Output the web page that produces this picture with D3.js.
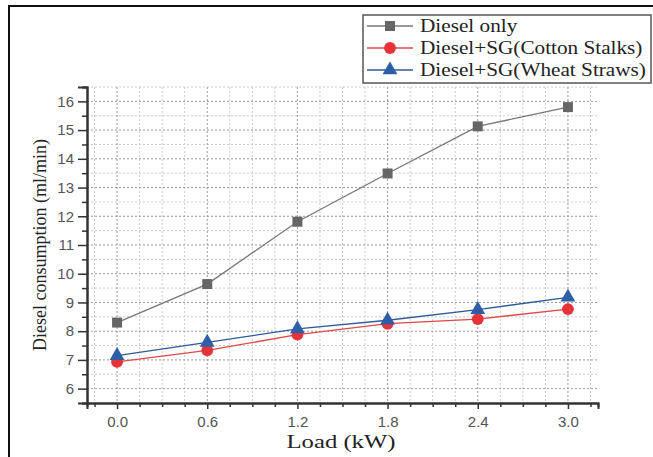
<!DOCTYPE html>
<html>
<head>
<meta charset="utf-8">
<script src="https://cdn.jsdelivr.net/npm/d3@7"></script>
<style>
  body { margin: 0; background: #fff; }
  svg { display: block; }
  .serif { font-family: "Liberation Serif", "DejaVu Serif", serif; }
  .sans { font-family: "Liberation Sans", "DejaVu Sans", sans-serif; }
</style>
</head>
<body>
<svg id="chart" width="653" height="457"></svg>
<script>
// Data
const loads = [0.0, 0.6, 1.2, 1.8, 2.4, 3.0];
const dieselOnly = [8.30, 9.64, 11.81, 13.49, 15.13, 15.80];
const cottonStalks = [6.93, 7.33, 7.88, 8.26, 8.42, 8.77];
const wheatStraws = [7.15, 7.61, 8.08, 8.38, 8.75, 9.18];
const xTicks = [0.0, 0.6, 1.2, 1.8, 2.4, 3.0];
const yTicks = [6, 7, 8, 9, 10, 11, 12, 13, 14, 15, 16];
const seriesNames = ["Diesel only", "Diesel+SG(Cotton Stalks)", "Diesel+SG(Wheat Straws)"];

// Plot box
const plot = { left: 87, right: 598, top: 87, bottom: 403 };

const svg = d3.select("#chart");

// Outer frame (only top and left edges show inside the picture)
svg.append("rect")
  .attr("x", 9).attr("y", 6)
  .attr("width", 660).attr("height", 470)
  .attr("fill", "none")
  .attr("stroke", "#111")
  .attr("stroke-width", 2);

// Scales
const x = d3.scaleLinear().domain([-0.2, 3.2]).range([plot.left, plot.right]);
const y = d3.scaleLinear().domain([5.5, 16.5]).range([plot.bottom, plot.top]);

const minorX = d3.range(-0.15, 3.2, 0.15).map(v => +v.toFixed(2));
const minorY = d3.range(5.5, 16.6, 0.5).map(v => +v.toFixed(1));

// Grid: minor (lighter) then major (darker)
const grid = svg.append("g");
grid.selectAll("line.minx")
  .data(minorX.filter(v => !xTicks.includes(v)))
  .enter().append("line")
  .attr("x1", d => x(d)).attr("x2", d => x(d))
  .attr("y1", plot.top).attr("y2", plot.bottom)
  .attr("stroke", "#ccc").attr("stroke-width", 1).attr("stroke-dasharray", "2,2");
grid.selectAll("line.miny")
  .data(minorY.filter(v => !yTicks.includes(v)))
  .enter().append("line")
  .attr("x1", plot.left).attr("x2", plot.right)
  .attr("y1", d => y(d)).attr("y2", d => y(d))
  .attr("stroke", "#ccc").attr("stroke-width", 1).attr("stroke-dasharray", "2,2");
grid.selectAll("line.majx")
  .data(xTicks)
  .enter().append("line")
  .attr("x1", d => x(d)).attr("x2", d => x(d))
  .attr("y1", plot.top).attr("y2", plot.bottom)
  .attr("stroke", "#999").attr("stroke-width", 1).attr("stroke-dasharray", "2,2");
grid.selectAll("line.majy")
  .data(yTicks)
  .enter().append("line")
  .attr("x1", plot.left).attr("x2", plot.right)
  .attr("y1", d => y(d)).attr("y2", d => y(d))
  .attr("stroke", "#999").attr("stroke-width", 1).attr("stroke-dasharray", "2,2");

// Axes
svg.append("g")
  .attr("transform", `translate(0,${plot.bottom})`)
  .call(d3.axisBottom(x).tickValues(xTicks).tickFormat(d3.format(".1f")).tickSize(6).tickPadding(7));
svg.append("g")
  .attr("transform", `translate(${plot.left},0)`)
  .call(d3.axisLeft(y).tickValues(yTicks).tickSize(9).tickPadding(4));

// Minor ticks
svg.append("g")
  .attr("transform", `translate(0,${plot.bottom})`)
  .call(d3.axisBottom(x).tickValues(minorX.filter(v => !xTicks.includes(v))).tickFormat("").tickSize(4));
svg.append("g")
  .attr("transform", `translate(${plot.left},0)`)
  .call(d3.axisLeft(y).tickValues(minorY.filter(v => !yTicks.includes(v))).tickFormat("").tickSize(5));

svg.selectAll(".domain").attr("stroke", "#333").attr("stroke-width", 2);
svg.selectAll(".tick line").attr("stroke", "#333").attr("stroke-width", 1.5);
svg.selectAll(".tick text")
  .attr("class", "sans")
  .attr("font-family", null)
  .attr("font-size", 15)
  .attr("fill", "#555");

// Axis titles (the source image is a bit stretched sideways)
svg.append("text")
  .attr("class", "serif")
  .attr("transform", `translate(341,448) scale(1.3,1)`)
  .attr("text-anchor", "middle")
  .attr("font-size", 19)
  .attr("fill", "#222")
  .text("Load (kW)");
svg.append("text")
  .attr("class", "serif")
  .attr("transform", `translate(46,245) rotate(-90)`)
  .attr("text-anchor", "middle")
  .attr("font-size", 18)
  .attr("fill", "#222")
  .text("Diesel consumption (ml/min)");

// Series
const series = [
  { name: seriesNames[0], values: dieselOnly, line: "#777", fill: "#666", shape: d3.symbolSquare, size: 100 },
  { name: seriesNames[1], values: cottonStalks, line: "#e0474a", fill: "#e8323a", shape: d3.symbolCircle, size: 110 },
  { name: seriesNames[2], values: wheatStraws, line: "#2f5a98", fill: "#2e5ea6", shape: d3.symbolTriangle, size: 95 }
];

const line = d3.line().x((d, i) => x(loads[i])).y(d => y(d));

series.forEach(s => {
  svg.append("path")
    .datum(s.values)
    .attr("fill", "none")
    .attr("stroke", s.line)
    .attr("stroke-width", 1.3)
    .attr("d", line);
});
series.forEach(s => {
  svg.selectAll(null)
    .data(s.values)
    .enter().append("path")
    .attr("transform", (d, i) => `translate(${x(loads[i])},${y(d)})`)
    .attr("d", d3.symbol().type(s.shape).size(s.size))
    .attr("fill", s.fill);
});

// Legend
const legend = svg.append("g").attr("transform", "translate(363,15)");
legend.append("rect")
  .attr("width", 288).attr("height", 68)
  .attr("fill", "#fff")
  .attr("stroke", "#555").attr("stroke-width", 1.5);
const rows = legend.selectAll("g.row")
  .data(series)
  .enter().append("g")
  .attr("transform", (d, i) => `translate(0,${11 + i * 22})`);
rows.append("line")
  .attr("x1", 4).attr("x2", 50)
  .attr("stroke", d => d.line).attr("stroke-width", 1.3);
rows.append("path")
  .attr("transform", "translate(27,0)")
  .attr("d", d => d3.symbol().type(d.shape).size(d.size)())
  .attr("fill", d => d.fill);
rows.append("text")
  .attr("class", "serif")
  .attr("transform", "translate(57,6) scale(1.18,1)")
  .attr("font-size", 18)
  .attr("fill", "#222")
  .text(d => d.name);
</script>
</body>
</html>
